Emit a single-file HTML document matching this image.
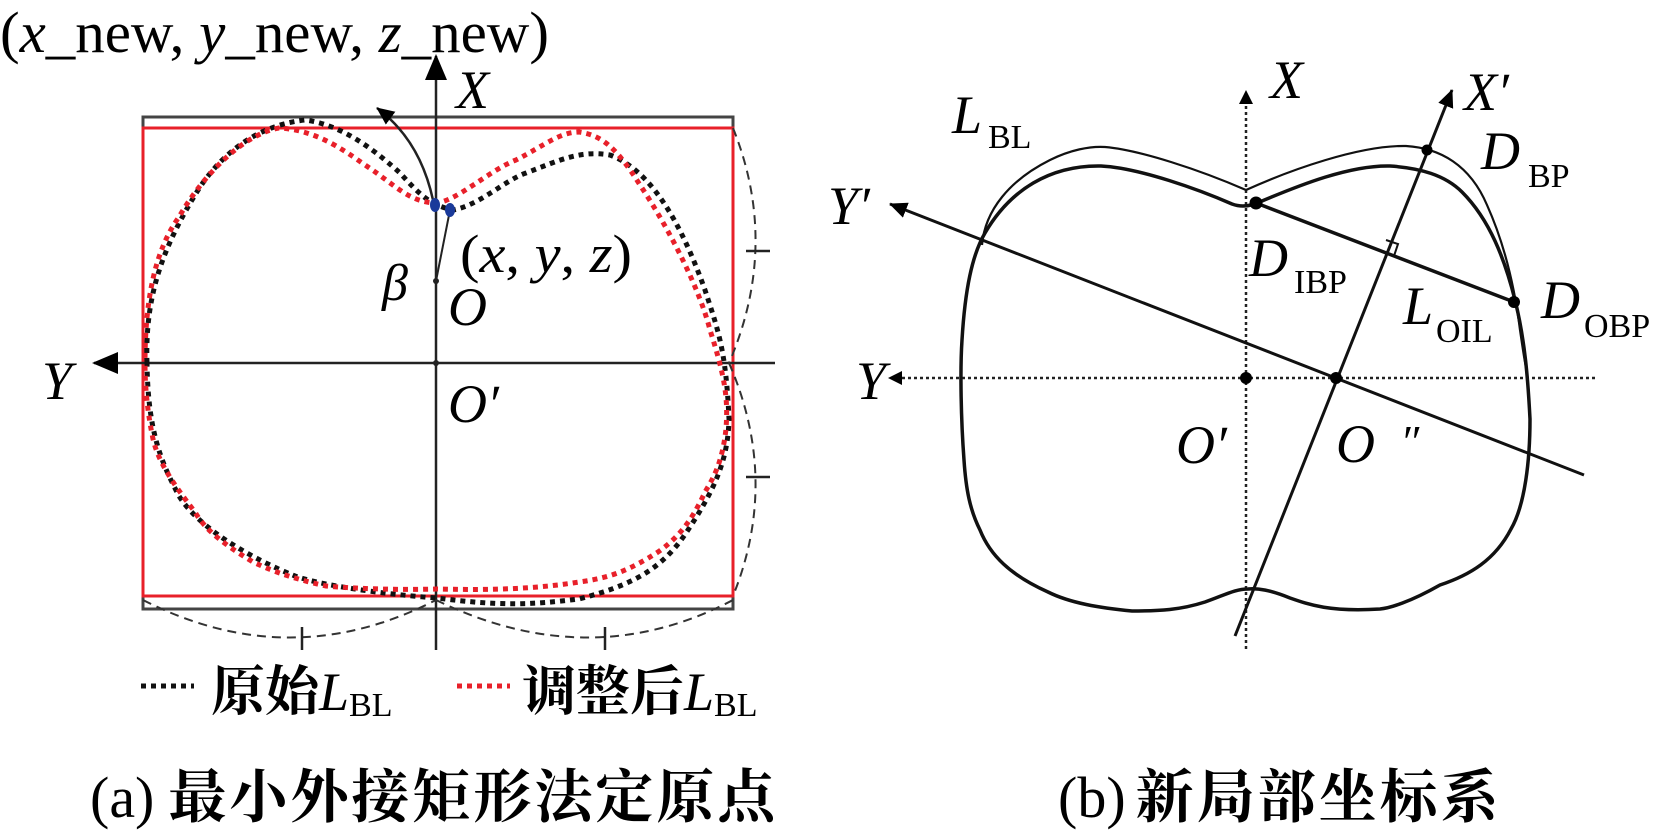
<!DOCTYPE html>
<html><head><meta charset="utf-8"><style>
html,body{margin:0;padding:0;background:#fff}
svg{display:block}
text{font-family:"Liberation Serif","Noto Serif CJK SC",serif;fill:#000}
.cj{font-family:"Liberation Serif","Noto Serif CJK SC",serif;font-weight:bold}
.i{font-style:italic}
</style></head><body>
<svg width="1654" height="838" viewBox="0 0 1654 838" xmlns="http://www.w3.org/2000/svg">
<defs>
<marker id="ahb" markerWidth="26" markerHeight="22" refX="24" refY="11" orient="auto" markerUnits="userSpaceOnUse"><path d="M0,0 L26,11 L0,22z" fill="#000"/></marker>
<marker id="ahm" markerWidth="18" markerHeight="16" refX="17" refY="8" orient="auto" markerUnits="userSpaceOnUse"><path d="M0,0 L18,8 L0,16z" fill="#000"/></marker>
</defs>

<!-- LEFT PANEL -->
<text x="0" y="52" font-size="58" textLength="549" lengthAdjust="spacingAndGlyphs">(<tspan class="i">x</tspan>_new, <tspan class="i">y</tspan>_new, <tspan class="i">z</tspan>_new)</text>
<rect x="143" y="117" width="590" height="492" fill="none" stroke="#444" stroke-width="3"/>
<rect x="143" y="128" width="590" height="468" fill="none" stroke="#e8202a" stroke-width="3"/>
<line x1="436" y1="650" x2="436" y2="56" stroke="#222" stroke-width="2.5" marker-end="url(#ahb)"/>
<line x1="775" y1="363" x2="94" y2="363" stroke="#222" stroke-width="2.5" marker-end="url(#ahb)"/>
<g fill="none" stroke="#333" stroke-width="2" stroke-dasharray="9 6">
<path d="M733,128 Q780,245 729,363"/>
<path d="M729,363 Q780,480 733,596"/>
<path d="M143,600 Q290,675 436,600"/>
<path d="M436,600 Q590,675 733,600"/>
</g>
<g stroke="#222" stroke-width="2.5">
<line x1="746" y1="251" x2="770" y2="251"/><line x1="746" y1="477" x2="770" y2="477"/>
<line x1="302" y1="627" x2="302" y2="650"/><line x1="605" y1="627" x2="605" y2="650"/>
</g>
<path fill="none" stroke="#111" stroke-width="5" stroke-dasharray="5 5" d="M147,363 C145,300 160,250 200,187 C225,150 260,125 305,120 C345,125 380,155 400,173 C420,195 430,205 453,210 C480,205 505,180 526,173 C560,160 580,150 610,155 C650,170 680,220 705,290 C718,330 726,350 729,419 C728,460 715,490 684,536 C660,570 632,585 579,599 C530,605 500,606 437,598 C380,594 320,585 295,576 C255,560 200,530 179,496 C160,460 148,430 147,363"/>
<path fill="none" stroke="#e8202a" stroke-width="5" stroke-dasharray="5 5" stroke-dashoffset="5" d="M145,363 C145,300 155,250 179,217 C200,180 240,135 279,128 C320,130 350,155 368,167 C395,185 410,203 437,203 C458,200 490,170 516,160 C545,145 560,132 579,132 C600,135 615,145 640,185 C670,230 700,290 710,330 C726,380 728,400 726,429 C722,465 712,480 705,492 C690,525 675,540 658,552 C630,570 610,578 579,582 C530,590 480,590 437,589 C400,590 360,589 326,586 C290,578 270,570 253,562 C225,545 205,530 195,512 C170,480 158,460 153,439 C146,405 145,380 145,363"/>
<line x1="436" y1="281" x2="450" y2="210" stroke="#222" stroke-width="2"/>
<path d="M433,200 Q420,140 377,108" fill="none" stroke="#222" stroke-width="2.5" marker-end="url(#ahm)"/>
<circle cx="436" cy="281" r="3" fill="#222"/>
<circle cx="436" cy="363" r="3" fill="#222"/>
<ellipse cx="435" cy="205" rx="5" ry="7" fill="#1a3a9a"/>
<ellipse cx="450" cy="210" rx="5" ry="7" fill="#1a3a9a"/>
<text x="456" y="108" font-size="54" class="i">X</text>
<text x="42" y="399" font-size="54" class="i">Y</text>
<text x="448" y="325" font-size="54" class="i">O</text>
<text x="448" y="422" font-size="54" class="i">O′</text>
<text x="382" y="300" font-size="52" class="i">β</text>
<text x="460" y="272" font-size="54" textLength="172" lengthAdjust="spacingAndGlyphs">(<tspan class="i">x</tspan>, <tspan class="i">y</tspan>, <tspan class="i">z</tspan>)</text>
<line x1="141" y1="686" x2="194" y2="686" stroke="#111" stroke-width="5" stroke-dasharray="5 5"/>
<line x1="457" y1="686" x2="510" y2="686" stroke="#e8202a" stroke-width="5" stroke-dasharray="5 5"/>
<text x="211" y="710" font-size="54" class="cj">原始<tspan class="i" font-weight="normal">L</tspan><tspan font-size="34" dy="6" font-weight="normal">BL</tspan></text>
<text x="522" y="710" font-size="54" class="cj">调整后<tspan class="i" font-weight="normal">L</tspan><tspan font-size="34" dy="6" font-weight="normal">BL</tspan></text>
<text x="90" y="817" font-size="58" class="cj"><tspan font-weight="normal">(a)</tspan><tspan dx="14" letter-spacing="3">最小外接矩形法定原点</tspan></text>

<!-- RIGHT PANEL -->
<g stroke="#222" stroke-width="2.5" stroke-dasharray="3 3" fill="none">
<line x1="1246" y1="649" x2="1246" y2="100"/>
<line x1="1595" y1="378" x2="898" y2="378"/>
</g>
<path d="M1246,90 L1239,104 L1253,104z" fill="#000"/>
<path d="M888,378 L902,371 L902,385z" fill="#000"/>
<line x1="1584" y1="475" x2="890" y2="204" stroke="#111" stroke-width="3" marker-end="url(#ahm)"/>
<line x1="1235" y1="636" x2="1452" y2="90" stroke="#111" stroke-width="3" marker-end="url(#ahm)"/>
<line x1="1256" y1="203" x2="1514" y2="302" stroke="#111" stroke-width="3.5"/>
<path d="M1386,240 L1398,244 L1394,256" fill="none" stroke="#111" stroke-width="2"/>
<path fill="none" stroke="#111" stroke-width="2.2" d="M982,245 C985,210 1010,180 1050,160 C1070,150 1090,146 1105,147 C1140,150 1200,170 1246,190 C1290,170 1360,145 1406,146 C1440,148 1470,165 1487,205 C1505,245 1515,290 1520,330 C1523,350 1525,365 1527,372"/>
<path fill="none" stroke="#111" stroke-width="3.5" d="M985,233 C1010,190 1050,165 1101,166 C1140,168 1200,190 1232,204 C1240,207 1250,207 1262,201 C1300,185 1350,165 1390,166 C1420,168 1445,175 1462,192 C1490,220 1505,260 1515,300 C1525,340 1528,380 1530,419 C1530,460 1525,505 1511,529 C1495,560 1470,575 1440,585 C1410,602 1390,608 1380,609 C1330,612 1310,605 1290,598 C1270,590 1258,588 1248,589 C1235,589 1225,595 1205,602 C1180,610 1160,611 1132,611 C1100,608 1070,603 1048,592 C1010,575 990,555 980,530 C970,510 966,490 964,460 C961,420 960,370 962,340 C965,290 972,255 985,233 Z"/>
<circle cx="1427" cy="150" r="5.5" fill="#000"/>
<circle cx="1256" cy="203" r="6.5" fill="#000"/>
<circle cx="1514" cy="302" r="6" fill="#000"/>
<circle cx="1246" cy="378" r="6" fill="#000"/>
<circle cx="1336" cy="378" r="6" fill="#000"/>
<text x="1270" y="98" font-size="54" class="i">X</text>
<text x="1464" y="110" font-size="54" class="i">X′</text>
<text x="828" y="224" font-size="54" class="i">Y′</text>
<text x="856" y="399" font-size="54" class="i">Y</text>
<text x="952" y="133" font-size="54" class="i">L</text><text x="988" y="148" font-size="34">BL</text>
<text x="1481" y="169" font-size="54" class="i">D</text><text x="1528" y="187" font-size="34">BP</text>
<text x="1249" y="276" font-size="54" class="i">D</text><text x="1294" y="293" font-size="34">IBP</text>
<text x="1403" y="324" font-size="54" class="i">L</text><text x="1436" y="342" font-size="34">OIL</text>
<text x="1541" y="318" font-size="54" class="i">D</text><text x="1584" y="337" font-size="34">OBP</text>
<text x="1176" y="463" font-size="54" class="i">O′</text>
<text x="1336" y="462" font-size="54" class="i">O</text><text x="1400" y="457" font-size="46" class="i">″</text>
<text x="1058" y="817" font-size="58" class="cj"><tspan font-weight="normal">(b)</tspan><tspan dx="10" letter-spacing="3">新局部坐标系</tspan></text>
</svg>
</body></html>
